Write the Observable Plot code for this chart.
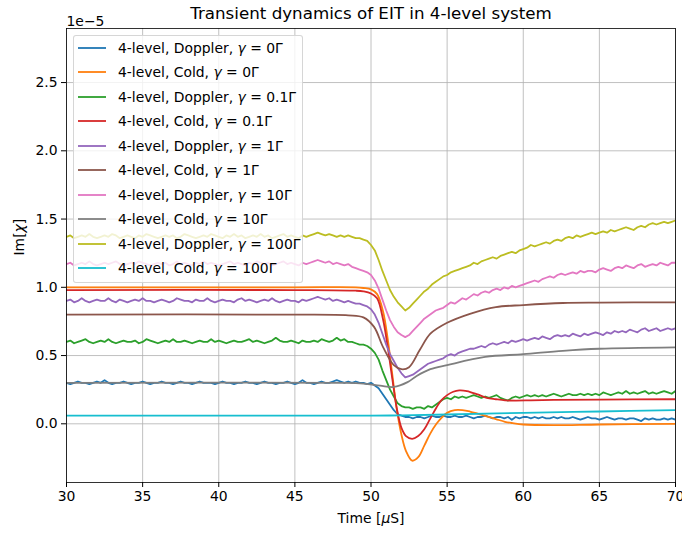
<!DOCTYPE html>
<html>
<head>
<meta charset="utf-8">
<script src="https://cdn.jsdelivr.net/npm/d3@7"></script>
<script src="https://cdn.jsdelivr.net/npm/@observablehq/plot@0.6"></script>
<style>
  body { margin: 0; background: #fff; }
  #fig { position: relative; width: 682px; height: 533px; font-family: "DejaVu Sans", sans-serif; }
  #legend {
    position: absolute; left: 73px; top: 35px; width: 230px; height: 248px;
    box-sizing: border-box; background: rgba(255,255,255,0.8);
    border: 1px solid rgba(204,204,204,0.8); border-radius: 3px;
  }
  .row { position: absolute; left: 0; height: 24px; display: flex; align-items: center;
         font-size: 13.9px; color: #000; white-space: nowrap; }
  .row svg { margin-left: 4px; margin-right: 12px; display: block; }
</style>
</head>
<body>
<div id="fig"></div>
<script>
// Im[chi] in units of 1e-5, time in microseconds
const xTicks = [30, 35, 40, 45, 50, 55, 60, 65, 70];
const yTicks = [0, 0.5, 1.0, 1.5, 2.0, 2.5];

const seriesNames = [
  "4-level, Doppler, γ = 0Γ",
  "4-level, Cold, γ = 0Γ",
  "4-level, Doppler, γ = 0.1Γ",
  "4-level, Cold, γ = 0.1Γ",
  "4-level, Doppler, γ = 1Γ",
  "4-level, Cold, γ = 1Γ",
  "4-level, Doppler, γ = 10Γ",
  "4-level, Cold, γ = 10Γ",
  "4-level, Doppler, γ = 100Γ",
  "4-level, Cold, γ = 100Γ"
];
const seriesColors = ["#1f77b4", "#ff7f0e", "#2ca02c", "#d62728", "#9467bd",
                      "#8c564b", "#e377c2", "#7f7f7f", "#bcbd22", "#17becf"];

// Doppler-averaged traces, sampled every 0.25 µs from 30 to 70
const dopplerTime = d3.range(161).map(i => 30 + i * 0.25);
const doppler0 = [
  0.30,0.29,0.30,0.31,0.30,0.30,0.29,0.30, 0.31,0.30,0.32,0.30,0.29,0.30,0.30,0.31,
  0.30,0.29,0.30,0.30,0.31,0.30,0.29,0.30, 0.30,0.31,0.30,0.30,0.29,0.30,0.31,0.30,
  0.30,0.29,0.30,0.31,0.30,0.30,0.30,0.29, 0.30,0.31,0.30,0.30,0.29,0.30,0.30,0.31,
  0.30,0.30,0.29,0.30,0.31,0.30,0.30,0.29, 0.30,0.30,0.31,0.30,0.29,0.30,0.32,0.30,
  0.30,0.29,0.30,0.31,0.30,0.30,0.31,0.32, 0.31,0.30,0.31,0.30,0.31,0.30,0.30,0.29,
  0.30,0.28,0.26,0.22,0.18,0.14,0.10,0.07,0.06,0.05,
  0.05,0.04,0.05,0.05,0.04,0.05,0.06,0.05, 0.05,0.06,0.05,0.05,0.06,0.05,0.05,0.06,
  0.05,0.04,0.05,0.05,0.06,0.05,0.04,0.05, 0.05,0.04,0.05,0.03,0.05,0.04,0.05,0.05,
  0.04,0.05,0.04,0.05,0.04,0.04,0.05,0.04, 0.05,0.04,0.04,0.05,0.04,0.03,0.04,0.05,
  0.04,0.04,0.03,0.04,0.05,0.04,0.03,0.04, 0.04,0.03,0.04,0.04,0.03,0.02,0.04,0.03,
  0.04,0.03,0.03,0.04,0.03,0.04,0.03
];
const doppler01 = [
  0.60,0.61,0.59,0.60,0.61,0.62,0.60,0.59, 0.60,0.61,0.60,0.62,0.60,0.59,0.60,0.61,
  0.60,0.60,0.61,0.59,0.60,0.62,0.61,0.60, 0.59,0.60,0.61,0.60,0.62,0.60,0.60,0.61,
  0.60,0.59,0.60,0.61,0.60,0.60,0.62,0.60, 0.61,0.60,0.59,0.60,0.61,0.60,0.60,0.61,
  0.62,0.60,0.61,0.60,0.59,0.60,0.61,0.63, 0.61,0.60,0.60,0.61,0.60,0.59,0.61,0.60,
  0.60,0.61,0.60,0.62,0.61,0.60,0.61,0.63, 0.61,0.62,0.60,0.60,0.59,0.58,0.58,0.57,
  0.55,0.52,0.47,0.39,0.32,0.25,0.20,0.15,0.13,0.12,
  0.12,0.11,0.12,0.12,0.11,0.13,0.12,0.14, 0.16,0.18,0.19,0.18,0.20,0.19,0.20,0.19,
  0.20,0.21,0.20,0.19,0.20,0.19,0.20,0.21, 0.19,0.18,0.17,0.19,0.20,0.19,0.20,0.21,
  0.20,0.21,0.20,0.21,0.20,0.21,0.22,0.21, 0.20,0.21,0.22,0.21,0.21,0.22,0.21,0.22,
  0.21,0.22,0.21,0.23,0.22,0.21,0.22,0.23, 0.22,0.24,0.22,0.23,0.22,0.23,0.24,0.22,
  0.23,0.22,0.23,0.24,0.23,0.22,0.24
];
const doppler1 = [
  0.90,0.91,0.89,0.90,0.92,0.90,0.89,0.90, 0.91,0.90,0.90,0.92,0.90,0.89,0.91,0.90,
  0.89,0.90,0.91,0.90,0.92,0.90,0.90,0.89, 0.90,0.91,0.90,0.89,0.90,0.92,0.91,0.90,
  0.90,0.89,0.91,0.90,0.90,0.92,0.90,0.89, 0.90,0.91,0.90,0.90,0.89,0.91,0.92,0.90,
  0.91,0.90,0.89,0.90,0.91,0.90,0.92,0.90, 0.89,0.90,0.91,0.90,0.90,0.89,0.91,0.90,
  0.91,0.92,0.93,0.92,0.91,0.92,0.90,0.91, 0.90,0.89,0.90,0.89,0.88,0.88,0.87,0.86,
  0.84,0.80,0.74,0.66,0.58,0.51,0.46,0.41,0.37,0.34,
  0.35,0.36,0.38,0.40,0.42,0.44,0.45,0.46, 0.47,0.48,0.50,0.51,0.50,0.52,0.53,0.54,
  0.55,0.55,0.56,0.57,0.56,0.58,0.59,0.58, 0.59,0.60,0.59,0.61,0.60,0.61,0.62,0.61,
  0.62,0.63,0.62,0.64,0.63,0.62,0.64,0.65, 0.64,0.65,0.64,0.66,0.65,0.64,0.66,0.65,
  0.66,0.67,0.66,0.65,0.67,0.66,0.68,0.67, 0.68,0.67,0.69,0.68,0.67,0.69,0.70,0.68,
  0.69,0.70,0.68,0.69,0.70,0.69,0.70
];
const doppler10 = [
  1.17,1.18,1.16,1.17,1.18,1.17,1.19,1.17, 1.16,1.17,1.18,1.17,1.18,1.19,1.17,1.16,
  1.17,1.18,1.17,1.19,1.18,1.17,1.16,1.17, 1.18,1.17,1.18,1.16,1.17,1.19,1.17,1.18,
  1.17,1.16,1.18,1.17,1.19,1.17,1.18,1.17, 1.16,1.17,1.18,1.19,1.17,1.18,1.17,1.16,
  1.18,1.17,1.19,1.18,1.17,1.18,1.16,1.17, 1.18,1.19,1.17,1.18,1.17,1.16,1.18,1.17,
  1.18,1.19,1.20,1.19,1.18,1.19,1.17,1.18, 1.17,1.16,1.17,1.15,1.14,1.13,1.12,1.11,
  1.09,1.05,0.99,0.91,0.83,0.76,0.71,0.67,0.65,0.635,
  0.65,0.68,0.71,0.74,0.77,0.79,0.81,0.83, 0.84,0.85,0.87,0.89,0.88,0.90,0.92,0.91,
  0.93,0.95,0.94,0.96,0.97,0.96,0.98,0.99, 0.98,1.00,0.99,1.01,1.00,1.01,1.02,1.03,
  1.04,1.05,1.04,1.06,1.07,1.08,1.07,1.09, 1.10,1.09,1.10,1.11,1.10,1.12,1.11,1.12,
  1.12,1.11,1.13,1.14,1.13,1.12,1.14,1.15, 1.14,1.16,1.15,1.14,1.16,1.17,1.15,1.16,
  1.17,1.16,1.18,1.17,1.16,1.18,1.18
];
const doppler100 = [
  1.37,1.38,1.36,1.37,1.38,1.37,1.39,1.37, 1.36,1.37,1.38,1.37,1.39,1.38,1.36,1.37,
  1.38,1.37,1.36,1.38,1.37,1.39,1.38,1.37, 1.36,1.37,1.38,1.37,1.38,1.36,1.37,1.39,
  1.38,1.37,1.36,1.37,1.38,1.37,1.39,1.38, 1.37,1.36,1.38,1.37,1.39,1.37,1.38,1.36,
  1.37,1.38,1.37,1.39,1.37,1.38,1.36,1.37, 1.38,1.39,1.37,1.38,1.37,1.36,1.38,1.37,
  1.38,1.39,1.40,1.39,1.38,1.39,1.38,1.37, 1.38,1.37,1.38,1.37,1.36,1.36,1.35,1.34,
  1.31,1.27,1.20,1.12,1.05,0.98,0.93,0.89,0.86,0.83,
  0.85,0.88,0.91,0.94,0.97,0.99,1.02,1.04, 1.06,1.08,1.09,1.11,1.12,1.13,1.14,1.15,
  1.16,1.18,1.17,1.19,1.20,1.21,1.22,1.21, 1.23,1.24,1.25,1.26,1.25,1.27,1.28,1.29,
  1.31,1.30,1.31,1.32,1.33,1.32,1.34,1.35, 1.34,1.36,1.37,1.36,1.38,1.37,1.38,1.39,
  1.40,1.39,1.40,1.41,1.40,1.42,1.41,1.42, 1.43,1.44,1.43,1.42,1.44,1.45,1.44,1.46,
  1.47,1.46,1.47,1.48,1.47,1.48,1.49
];

// Cold-atom traces (smooth), sampled at irregular times
const cold0Time = [30, 45, 49, 49.5, 50, 50.4, 50.8, 51.1, 51.4, 51.7, 52.0, 52.3, 52.7, 53.1, 53.5, 53.9, 54.3, 54.6, 55.0, 55.5, 56.0, 56.5, 57.0, 57.6, 58.2, 58.8, 59.3, 60, 62, 65, 70];
const cold0 = [1.00, 1.00, 1.00, 0.995, 0.985, 0.95, 0.82, 0.62, 0.36, 0.10, -0.08, -0.20, -0.27, -0.245, -0.16, -0.07, 0.0, 0.04, 0.08, 0.10, 0.10, 0.09, 0.075, 0.055, 0.035, 0.015, 0.005, -0.005, -0.01, -0.005, 0.0];
const cold01Time = [30, 45, 49, 49.5, 50, 50.4, 50.8, 51.1, 51.4, 51.7, 52.0, 52.3, 52.7, 53.1, 53.5, 53.9, 54.3, 54.6, 55.0, 55.4, 55.8, 56.3, 57.0, 57.6, 58.2, 58.8, 59.5, 60.5, 62, 65, 70];
const cold01 = [0.98, 0.98, 0.975, 0.97, 0.955, 0.92, 0.76, 0.56, 0.33, 0.11, -0.03, -0.09, -0.11, -0.09, -0.04, 0.04, 0.12, 0.17, 0.21, 0.235, 0.245, 0.24, 0.215, 0.19, 0.18, 0.172, 0.17, 0.172, 0.175, 0.177, 0.18];
const cold1Time = [30, 45, 48.5, 49.5, 50.2, 50.8, 51.5, 52.0, 52.5, 53.2, 53.9, 55.0, 56.5, 58.2, 60, 62.6, 65, 70];
const cold1 = [0.80, 0.80, 0.795, 0.78, 0.71, 0.56, 0.43, 0.40, 0.415, 0.54, 0.66, 0.74, 0.806, 0.855, 0.87, 0.885, 0.888, 0.89];
const cold10Time = [30, 48, 49.5, 50.6, 51.5, 52.4, 53.0, 53.9, 55.0, 57.5, 60, 62.6, 65, 70];
const cold10 = [0.30, 0.30, 0.295, 0.28, 0.27, 0.305, 0.35, 0.40, 0.43, 0.49, 0.51, 0.535, 0.55, 0.56];
const cold100Time = [30, 50, 52, 55, 60, 65, 70];
const cold100 = [0.06, 0.06, 0.062, 0.068, 0.08, 0.09, 0.10];

const traces = [
  {t: dopplerTime, v: doppler0, smooth: false},
  {t: cold0Time, v: cold0, smooth: true},
  {t: dopplerTime, v: doppler01, smooth: false},
  {t: cold01Time, v: cold01, smooth: true},
  {t: dopplerTime, v: doppler1, smooth: false},
  {t: cold1Time, v: cold1, smooth: true},
  {t: dopplerTime, v: doppler10, smooth: false},
  {t: cold10Time, v: cold10, smooth: true},
  {t: dopplerTime, v: doppler100, smooth: false},
  {t: cold100Time, v: cold100, smooth: true}
];

const lineMarks = traces.map((tr, i) =>
  Plot.line(tr.t.map((t, j) => ({t, v: tr.v[j]})), {
    x: "t", y: "v",
    stroke: seriesColors[i], strokeWidth: 1.8,
    curve: tr.smooth ? "catmull-rom" : "linear",
    clip: true
  })
);

const chart = Plot.plot({
  width: 682, height: 533,
  marginLeft: 66, marginRight: 7, marginTop: 28, marginBottom: 51,
  style: { fontFamily: "DejaVu Sans, sans-serif", fontSize: "13.9px", color: "#000", background: "#fff" },
  x: { domain: [30, 70] },
  y: { domain: [-0.43, 2.896] },
  marks: [
    Plot.gridX(xTicks, { stroke: "#b0b0b0", strokeOpacity: 1, strokeWidth: 0.8 }),
    Plot.gridY(yTicks, { stroke: "#b0b0b0", strokeOpacity: 1, strokeWidth: 0.8 }),
    ...lineMarks,
    Plot.frame({ stroke: "#000", strokeWidth: 0.8 }),
    Plot.axisX(xTicks, { tickSize: 5, tickPadding: 4, label: null, fontSize: 13.9 }),
    Plot.axisY(yTicks, { tickSize: 5, tickPadding: 4, tickFormat: d3.format(".1f"), label: null, fontSize: 13.9 }),
    Plot.text(["Transient dynamics of EIT in 4-level system"], {
      frameAnchor: "top", lineAnchor: "bottom", dy: -10, fontSize: 16.7
    }),
    Plot.text(["1e\u22125"], {
      frameAnchor: "top-left", textAnchor: "start", lineAnchor: "bottom", dy: -3, fontSize: 13.9
    }),
    Plot.text(["Time [μS]"], {
      frameAnchor: "bottom", lineAnchor: "top", dy: 31, fontSize: 13.9
    }),
    Plot.text(["Im[χ]"], {
      frameAnchor: "left", rotate: -90, dx: -47, fontSize: 13.9
    })
  ]
});

// Set the Greek symbols of the axis labels in italics, as in math notation
d3.select(chart).selectAll("text").each(function () {
  const s = this.textContent;
  const m = s.match(/^(.*)([χμ])(.*)$/);
  if (!m) return;
  const el = d3.select(this).text(null);
  el.append("tspan").text(m[1]);
  el.append("tspan").attr("font-style", "italic").text(m[2]);
  el.append("tspan").text(m[3]);
});

const fig = document.getElementById("fig");
fig.appendChild(chart);

// Legend box drawn over the upper-left corner of the axes
const legend = document.createElement("div");
legend.id = "legend";
seriesNames.forEach((name, i) => {
  const row = document.createElement("div");
  row.className = "row";
  row.style.top = (-0.3 + i * 24.5) + "px";
  row.innerHTML =
    `<svg width="28" height="4"><line x1="0" x2="28" y1="2" y2="2" stroke="${seriesColors[i]}" stroke-width="1.8"/></svg>` +
    `<span>${name.replace("γ", "<i>γ</i>")}</span>`;
  legend.appendChild(row);
});
fig.appendChild(legend);
</script>
</body>
</html>
